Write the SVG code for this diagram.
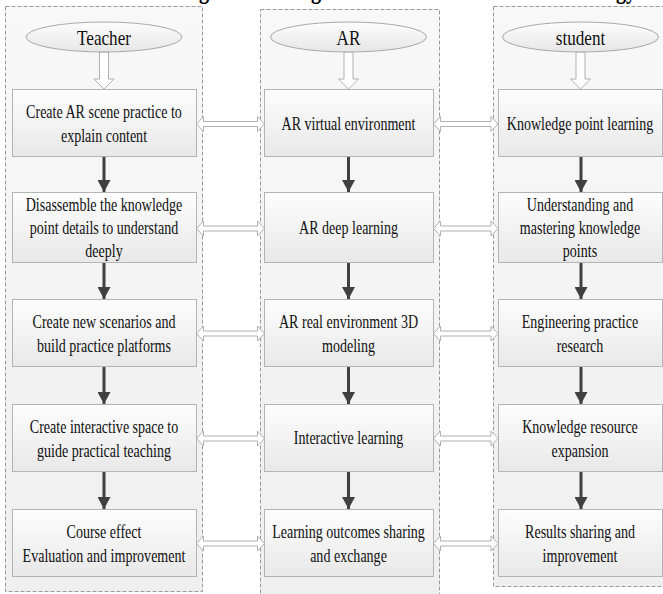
<svg xmlns="http://www.w3.org/2000/svg" width="663" height="594" viewBox="0 0 663 594">
<defs>
<linearGradient id="laneG" x1="0" y1="0" x2="0" y2="1"><stop offset="0" stop-color="#f8f8f8"/><stop offset="1" stop-color="#efefef"/></linearGradient>
<linearGradient id="boxG" x1="0" y1="0" x2="0" y2="1"><stop offset="0" stop-color="#fdfdfd"/><stop offset="1" stop-color="#e8e8e8"/></linearGradient>
<linearGradient id="ellG" x1="0" y1="0" x2="0" y2="1"><stop offset="0" stop-color="#fdfdfd"/><stop offset="1" stop-color="#e6e6e6"/></linearGradient>
<marker id="dk" viewBox="0 0 12 13" refX="12" refY="6.5" markerWidth="12" markerHeight="13" markerUnits="userSpaceOnUse" orient="auto"><path d="M0,0 L12,6.5 L0,13 Z" fill="#404040"/></marker>
</defs>
<style>
.lane{fill:url(#laneG);stroke:#9a9a9a;stroke-width:1;stroke-dasharray:4 2}
.box{fill:url(#boxG);stroke:#b4b4b4;stroke-width:1}
.ell{fill:url(#ellG);stroke:#a8a8a8;stroke-width:1}
.t{font-family:"Liberation Serif","Times New Roman",serif;font-size:18px;fill:#111;text-anchor:middle}
.h{font-size:22px}
.ttl{font-family:"Liberation Serif","Times New Roman",serif;font-size:26px;font-weight:bold;fill:#000;text-anchor:middle}
.hol{fill:#ffffff;stroke:#b0b0b0;stroke-width:1}
.dark{stroke:#404040;stroke-width:3;fill:none;marker-end:url(#dk)}
</style>
<rect width="663" height="594" fill="#ffffff"/>
<g id="title-fragment">
<text class="ttl" transform="translate(204,-1) scale(0.78,1)" x="0" y="0">g</text>
<text class="ttl" transform="translate(316,-1) scale(0.78,1)" x="0" y="0">g</text>
<text class="ttl" transform="translate(626,-1) scale(0.78,1)" x="0" y="0">gy</text>
</g>
<g id="lanes">
<rect class="lane" x="5.5" y="6.5" width="197" height="585"/>
<rect class="lane" x="260.5" y="9.5" width="179" height="590"/>
<rect class="lane" x="493.5" y="6.5" width="175" height="580"/>
</g>
<g id="connectors">
<path class="hol" d="M99.5,52 L108.5,52 L108.5,79 L114,79 L104,89 L94,79 L99.5,79 Z"/>
<path class="hol" d="M344,52 L353,52 L353,79 L358.5,79 L348.5,89 L338.5,79 L344,79 Z"/>
<path class="hol" d="M576,52 L585,52 L585,79 L590.5,79 L580.5,89 L570.5,79 L576,79 Z"/>
<line class="dark" x1="104" y1="157" x2="104" y2="192"/>
<line class="dark" x1="104" y1="263" x2="104" y2="299"/>
<line class="dark" x1="104" y1="366" x2="104" y2="404"/>
<line class="dark" x1="104" y1="471" x2="104" y2="509"/>
<line class="dark" x1="348.5" y1="157" x2="348.5" y2="192"/>
<line class="dark" x1="348.5" y1="263" x2="348.5" y2="299"/>
<line class="dark" x1="348.5" y1="366" x2="348.5" y2="404"/>
<line class="dark" x1="348.5" y1="471" x2="348.5" y2="509"/>
<line class="dark" x1="581" y1="157" x2="581" y2="192"/>
<line class="dark" x1="581" y1="263" x2="581" y2="299"/>
<line class="dark" x1="581" y1="366" x2="581" y2="404"/>
<line class="dark" x1="581" y1="471" x2="581" y2="509"/>
<path class="hol" d="M196.5,124 L203.5,116.5 L203.5,121.5 L257.5,121.5 L257.5,116.5 L264.5,124 L257.5,131.5 L257.5,126.5 L203.5,126.5 L203.5,131.5 Z"/>
<path class="hol" d="M433.5,124 L440.5,116.5 L440.5,121.5 L491,121.5 L491,116.5 L498,124 L491,131.5 L491,126.5 L440.5,126.5 L440.5,131.5 Z"/>
<path class="hol" d="M196.5,228.5 L203.5,221 L203.5,226 L257.5,226 L257.5,221 L264.5,228.5 L257.5,236 L257.5,231 L203.5,231 L203.5,236 Z"/>
<path class="hol" d="M433.5,228.5 L440.5,221 L440.5,226 L491,226 L491,221 L498,228.5 L491,236 L491,231 L440.5,231 L440.5,236 Z"/>
<path class="hol" d="M196.5,333.5 L203.5,326 L203.5,331 L257.5,331 L257.5,326 L264.5,333.5 L257.5,341 L257.5,336 L203.5,336 L203.5,341 Z"/>
<path class="hol" d="M433.5,333.5 L440.5,326 L440.5,331 L491,331 L491,326 L498,333.5 L491,341 L491,336 L440.5,336 L440.5,341 Z"/>
<path class="hol" d="M196.5,438.5 L203.5,431 L203.5,436 L257.5,436 L257.5,431 L264.5,438.5 L257.5,446 L257.5,441 L203.5,441 L203.5,446 Z"/>
<path class="hol" d="M433.5,438.5 L440.5,431 L440.5,436 L491,436 L491,431 L498,438.5 L491,446 L491,441 L440.5,441 L440.5,446 Z"/>
<path class="hol" d="M196.5,543.5 L203.5,536 L203.5,541 L257.5,541 L257.5,536 L264.5,543.5 L257.5,551 L257.5,546 L203.5,546 L203.5,551 Z"/>
<path class="hol" d="M433.5,543.5 L440.5,536 L440.5,541 L491,541 L491,536 L498,543.5 L491,551 L491,546 L440.5,546 L440.5,551 Z"/>
</g>
<g id="teacher">
<ellipse class="ell" cx="104" cy="37" rx="78" ry="15"/>
<text class="t h" transform="translate(104,45) scale(0.78,1)">Teacher</text>
</g>
<g id="ar">
<ellipse class="ell" cx="348.5" cy="37" rx="78" ry="15"/>
<text class="t h" transform="translate(348.5,45) scale(0.78,1)">AR</text>
</g>
<g id="student">
<ellipse class="ell" cx="580.5" cy="37" rx="78" ry="15"/>
<text class="t h" transform="translate(580.5,45) scale(0.78,1)">student</text>
</g>
<g id="t1"><rect class="box" x="12.5" y="89.5" width="184" height="67"/>
<text class="t" transform="translate(104,0) scale(0.78,1)"><tspan x="0" y="118">Create AR scene practice to</tspan><tspan x="0" y="142">explain content</tspan></text></g>
<g id="t2"><rect class="box" x="12.5" y="192.5" width="184" height="70"/>
<text class="t" transform="translate(104,0) scale(0.78,1)"><tspan x="0" y="211">Disassemble the knowledge</tspan><tspan x="0" y="234">point details to understand</tspan><tspan x="0" y="257">deeply</tspan></text></g>
<g id="t3"><rect class="box" x="12.5" y="299.5" width="184" height="67"/>
<text class="t" transform="translate(104,0) scale(0.78,1)"><tspan x="0" y="328">Create new scenarios and</tspan><tspan x="0" y="352">build practice platforms</tspan></text></g>
<g id="t4"><rect class="box" x="12.5" y="404.5" width="184" height="67"/>
<text class="t" transform="translate(104,0) scale(0.78,1)"><tspan x="0" y="433">Create interactive space to</tspan><tspan x="0" y="457">guide practical teaching</tspan></text></g>
<g id="t5"><rect class="box" x="12.5" y="509.5" width="184" height="67"/>
<text class="t" transform="translate(104,0) scale(0.78,1)"><tspan x="0" y="538">Course effect</tspan><tspan x="0" y="562">Evaluation and improvement</tspan></text></g>
<g id="a1"><rect class="box" x="264.5" y="89.5" width="169" height="67"/>
<text class="t" transform="translate(348.5,0) scale(0.78,1)"><tspan x="0" y="130">AR virtual environment</tspan></text></g>
<g id="a2"><rect class="box" x="264.5" y="192.5" width="169" height="70"/>
<text class="t" transform="translate(348.5,0) scale(0.78,1)"><tspan x="0" y="234">AR deep learning</tspan></text></g>
<g id="a3"><rect class="box" x="264.5" y="299.5" width="169" height="67"/>
<text class="t" transform="translate(348.5,0) scale(0.78,1)"><tspan x="0" y="328">AR real environment 3D</tspan><tspan x="0" y="352">modeling</tspan></text></g>
<g id="a4"><rect class="box" x="264.5" y="404.5" width="169" height="67"/>
<text class="t" transform="translate(348.5,0) scale(0.78,1)"><tspan x="0" y="444">Interactive learning</tspan></text></g>
<g id="a5"><rect class="box" x="264.5" y="509.5" width="169" height="67"/>
<text class="t" transform="translate(348.5,0) scale(0.78,1)"><tspan x="0" y="538">Learning outcomes sharing</tspan><tspan x="0" y="562">and exchange</tspan></text></g>
<g id="s1"><rect class="box" x="498.5" y="89.5" width="164" height="67"/>
<text class="t" transform="translate(580,0) scale(0.78,1)"><tspan x="0" y="130">Knowledge point learning</tspan></text></g>
<g id="s2"><rect class="box" x="498.5" y="192.5" width="164" height="70"/>
<text class="t" transform="translate(580,0) scale(0.78,1)"><tspan x="0" y="211">Understanding and</tspan><tspan x="0" y="234">mastering knowledge</tspan><tspan x="0" y="257">points</tspan></text></g>
<g id="s3"><rect class="box" x="498.5" y="299.5" width="164" height="67"/>
<text class="t" transform="translate(580,0) scale(0.78,1)"><tspan x="0" y="328">Engineering practice</tspan><tspan x="0" y="352">research</tspan></text></g>
<g id="s4"><rect class="box" x="498.5" y="404.5" width="164" height="67"/>
<text class="t" transform="translate(580,0) scale(0.78,1)"><tspan x="0" y="433">Knowledge resource</tspan><tspan x="0" y="457">expansion</tspan></text></g>
<g id="s5"><rect class="box" x="498.5" y="509.5" width="164" height="67"/>
<text class="t" transform="translate(580,0) scale(0.78,1)"><tspan x="0" y="538">Results sharing and</tspan><tspan x="0" y="562">improvement</tspan></text></g>
</svg>
